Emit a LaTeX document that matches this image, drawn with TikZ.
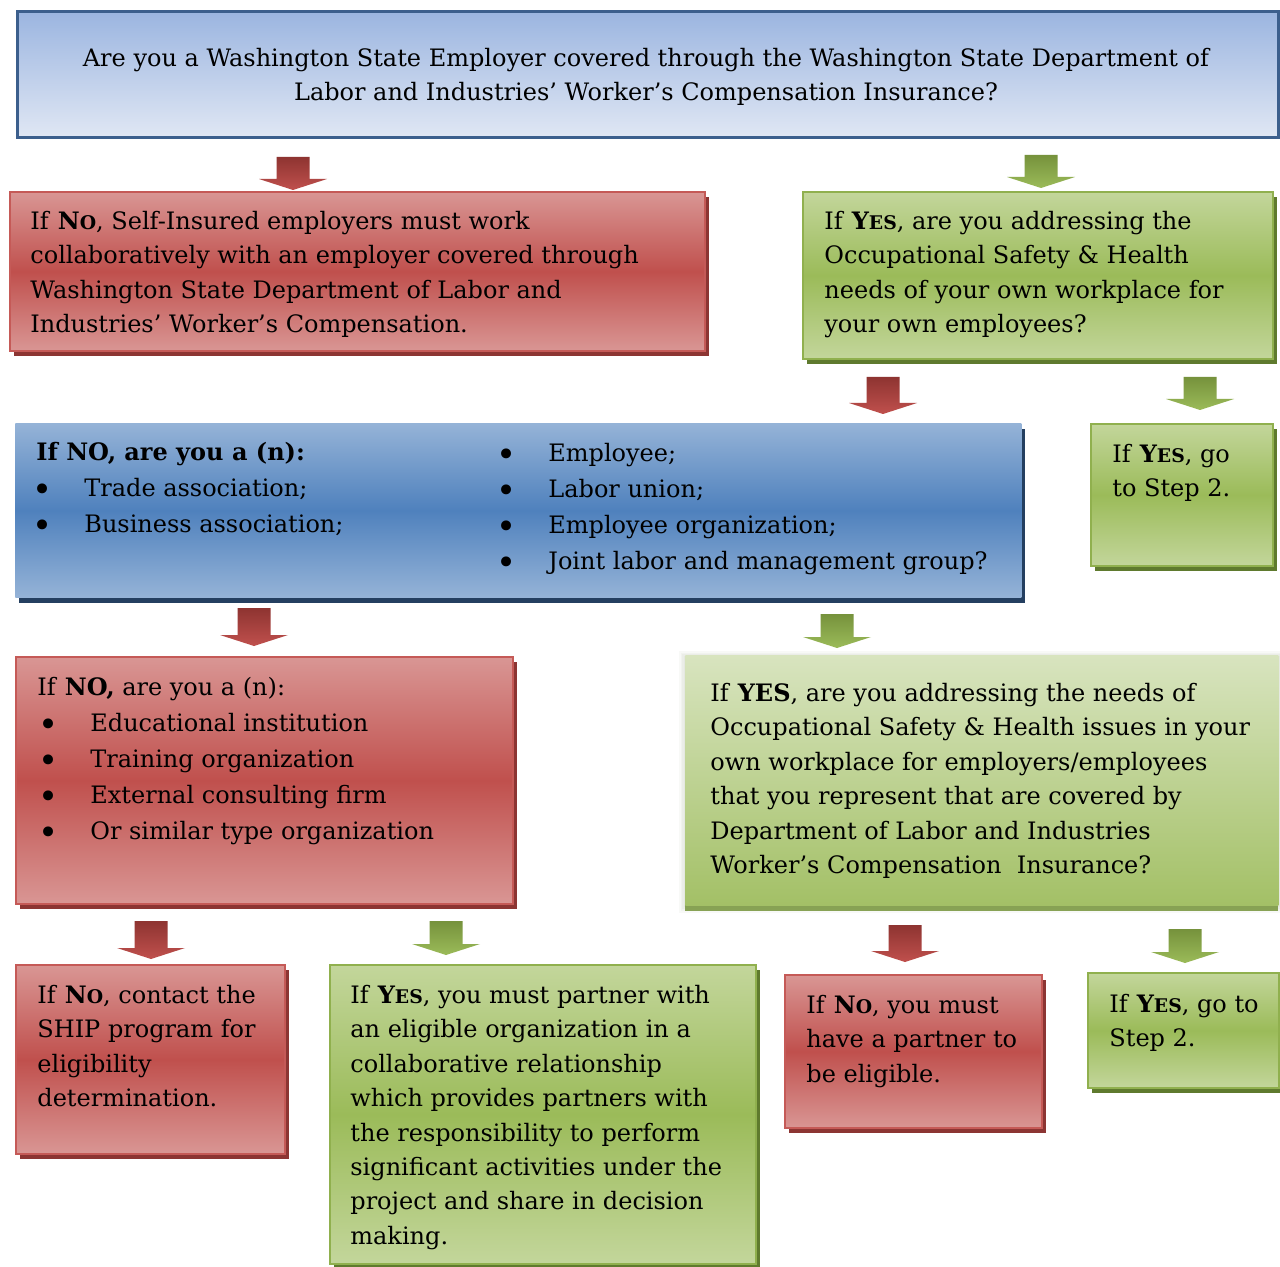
\documentclass[tikz,border=0pt]{standalone}
\usepackage{fontspec}
\setmainfont{DejaVu Serif}
\usetikzlibrary{calc,shadows}
\definecolor{redL}{HTML}{D99694}
\definecolor{redD}{HTML}{C0504D}
\definecolor{redS}{HTML}{8C3533}
\definecolor{redB}{HTML}{C55A57}
\definecolor{grnL}{HTML}{C3D69B}
\definecolor{grnD}{HTML}{9BBB59}
\definecolor{grnB}{HTML}{90B04E}
\definecolor{grnS}{HTML}{5F7A2E}
\definecolor{bluL}{HTML}{95B3D7}
\definecolor{bluD}{HTML}{4F81BD}
\definecolor{bluS}{HTML}{243F60}
\definecolor{topT}{HTML}{9BB5E0}
\definecolor{topB}{HTML}{E0E7F4}
\definecolor{topE}{HTML}{3C5F8D}
\definecolor{arRT}{HTML}{8E3431}
\definecolor{arGT}{HTML}{76923C}
\definecolor{y3T}{HTML}{D8E4BF}
\definecolor{y3B}{HTML}{A3C066}
\definecolor{y3S}{HTML}{7D9A45}
\definecolor{haloC}{HTML}{7F8F6A}
\newcommand\scNO{\textbf{N{\fontsize{9.4}{10}\selectfont O}}}
\newcommand\scYES{\textbf{Y{\fontsize{9.4}{10}\selectfont ES}}}
\newcommand\bul{\raisebox{-2.6pt}{\fontsize{17}{17}\selectfont •}}
\newcommand\bx[6]{\node[#2, anchor=north west, inner sep=0pt, minimum width={(#5-#3)*0.5pt}, minimum height={(#6-#4)*0.5pt}] (#1) at (#3,#4) {};}
\newcommand\blockarr[3]{\path[#1] let \p1=(#2), \p2=(#3) in (\x1-8.25pt,\y1) -- (\x1+8.25pt,\y1) -- (\x1+8.25pt,\y2+5.5pt) -- (\x1+17pt,\y2+5.5pt) -- (\x1,\y2) -- (\x1-17pt,\y2+5.5pt) -- (\x1-8.25pt,\y2+5.5pt) -- cycle;}
\tikzset{
  topbox/.style={draw=topE, line width=1.5pt, top color=topT, bottom color=topB},
  redbox/.style={draw=redB, line width=1pt, top color=redL, bottom color=redL, middle color=redD,
    drop shadow={shadow xshift=2pt, shadow yshift=-2.5pt, fill=redS, opacity=1}},
  grnbox/.style={draw=grnB, line width=1pt, top color=grnL, bottom color=grnL, middle color=grnD,
    drop shadow={shadow xshift=2pt, shadow yshift=-2.5pt, fill=grnS, opacity=1}},
  blubox/.style={draw=none, top color=bluL, bottom color=bluL, middle color=bluD,
    drop shadow={shadow xshift=2pt, shadow yshift=-3pt, fill=bluS, opacity=1}},
  y3box/.style={draw=none, top color=y3T, bottom color=y3B,
    drop shadow={shadow xshift=0pt, shadow yshift=-3pt, fill=y3S, opacity=0.9}},
  txt/.style={anchor=north west, inner sep=0pt, align=left, font=\fontsize{12}{17.2}\selectfont},
  txtw/.style={anchor=north west, inner sep=0pt, align=left, font=\fontsize{12}{18}\selectfont},
  redarr/.style={top color=arRT, bottom color=redD},
  grnarr/.style={top color=arGT, bottom color=grnD},
}
\begin{document}
\begin{tikzpicture}[x=0.5pt, y=-0.5pt]
\useasboundingbox (0,0) rectangle (1280,1267);
\fill[white] (0,0) rectangle (1280,1267);

% boxes
\bx{q1}{topbox}{16}{10}{1277}{136}
\bx{no1}{redbox}{9}{191}{704}{350}
\bx{yes1}{grnbox}{802}{191}{1272}{358}
\bx{no2}{blubox}{15}{423}{1021}{597}
\bx{yes2}{grnbox}{1090}{423}{1272}{565}
\bx{no3}{redbox}{15}{656}{512}{903}
\foreach \k in {1,...,4}{
  \fill[haloC, opacity=0.05] (685-\k*1.5,655-\k*1.5+2) rectangle (1278+\k*1.5,905+\k*2);
}
\bx{yes3}{y3box}{685}{655}{1278}{905}
\bx{no4}{redbox}{15}{964}{284}{1153}
\bx{yes4}{grnbox}{329}{964}{755}{1263}
\bx{no5}{redbox}{784}{974}{1041}{1127}
\bx{yes5}{grnbox}{1087}{972}{1278}{1087}

% texts
\node[txt, anchor=north, align=center] (q1t) at (646,42) {\strut Are you a Washington State Employer covered through the Washington State Department of\\ Labor and Industries’ Worker’s Compensation Insurance?};

\node[txt] (no1t) at (30,205) {\strut If \scNO, Self-Insured employers must work\\ collaboratively with an employer covered through\\ Washington State Department of Labor and\\ Industries’ Worker’s Compensation.};

\node[txt] (yes1t) at (824,205) {\strut If \scYES, are you addressing the\\ Occupational Safety \& Health\\ needs of your own workplace for\\ your own employees?};

\node[txtw] (no2l) at (36,435) {\strut\textbf{If NO, are you a (n):}\\
\makebox[24pt][l]{\makebox[6pt][c]{\bul}}Trade association;\\
\makebox[24pt][l]{\makebox[6pt][c]{\bul}}Business association;};

\node[txtw] (no2r) at (500,436) {\strut\makebox[24pt][l]{\makebox[6pt][c]{\bul}}Employee;\\
\makebox[24pt][l]{\makebox[6pt][c]{\bul}}Labor union;\\
\makebox[24pt][l]{\makebox[6pt][c]{\bul}}Employee organization;\\
\makebox[24pt][l]{\makebox[6pt][c]{\bul}}Joint labor and management group?};

\node[txt] (yes2t) at (1112,438) {\strut If \scYES, go\\ to Step 2.};

\node[txtw] (no3t) at (37,670) {\strut If \textbf{NO,} are you a (n):\\
\makebox[26.5pt][l]{\makebox[11pt][c]{\bul}}Educational institution\\
\makebox[26.5pt][l]{\makebox[11pt][c]{\bul}}Training organization\\
\makebox[26.5pt][l]{\makebox[11pt][c]{\bul}}External consulting firm\\
\makebox[26.5pt][l]{\makebox[11pt][c]{\bul}}Or similar type organization};

\node[txt] (yes3t) at (710,677) {\strut If \textbf{YES}, are you addressing the needs of\\ Occupational Safety \& Health issues in your\\ own workplace for employers/employees\\ that you represent that are covered by\\ Department of Labor and Industries\\ Worker’s Compensation\ \ Insurance?};

\node[txt] (no4t) at (37,979) {\strut If \scNO, contact the\\ SHIP program for\\ eligibility\\ determination.};

\node[txt] (yes4t) at (350,979) {\strut If \scYES, you must partner with\\ an eligible organization in a\\ collaborative relationship\\ which provides partners with\\ the responsibility to perform\\ significant activities under the\\ project and share in decision\\ making.};

\node[txt] (no5t) at (806,989) {\strut If \scNO, you must\\ have a partner to\\ be eligible.};

\node[txt] (yes5t) at (1109,988) {\strut If \scYES, go to\\ Step 2.};

% block arrows
\coordinate (a1s) at (293,157);  \coordinate (a1e) at (293,190);
\coordinate (a2s) at (1041,155); \coordinate (a2e) at (1041,188);
\coordinate (a3s) at (883,377);  \coordinate (a3e) at (883,414);
\coordinate (a4s) at (1200,377); \coordinate (a4e) at (1200,410);
\coordinate (a5s) at (254,608);  \coordinate (a5e) at (254,646);
\coordinate (a6s) at (837,614);  \coordinate (a6e) at (837,648);
\coordinate (a7s) at (151,921);  \coordinate (a7e) at (151,959);
\coordinate (a8s) at (446,921);  \coordinate (a8e) at (446,955);
\coordinate (a9s) at (905,925);  \coordinate (a9e) at (905,962);
\coordinate (a10s) at (1185,929); \coordinate (a10e) at (1185,963);
\blockarr{redarr}{a1s}{a1e}
\blockarr{grnarr}{a2s}{a2e}
\blockarr{redarr}{a3s}{a3e}
\blockarr{grnarr}{a4s}{a4e}
\blockarr{redarr}{a5s}{a5e}
\blockarr{grnarr}{a6s}{a6e}
\blockarr{redarr}{a7s}{a7e}
\blockarr{grnarr}{a8s}{a8e}
\blockarr{redarr}{a9s}{a9e}
\blockarr{grnarr}{a10s}{a10e}
\end{tikzpicture}
\end{document}
